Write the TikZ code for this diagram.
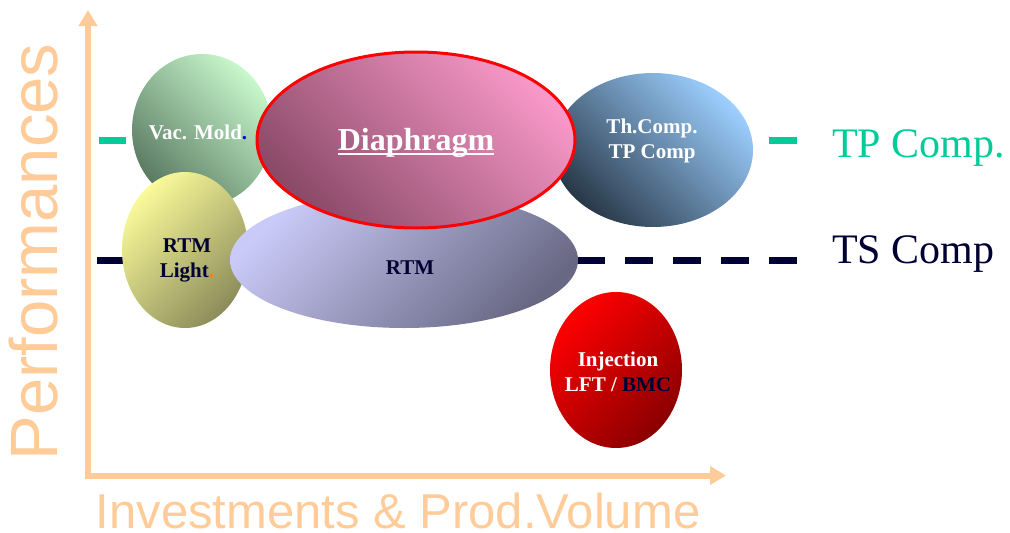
\documentclass[tikz,border=0pt]{standalone}
\usepackage{fontspec}
\setmainfont{Liberation Serif}
\newfontfamily\arialfont{Liberation Sans}
\usetikzlibrary{shapes.geometric,arrows.meta}
\definecolor{peach}{HTML}{FFCC99}
\definecolor{tpgreen}{HTML}{00CC99}
\definecolor{tsnavy}{HTML}{000033}
\definecolor{vacL}{HTML}{C8F8CC}\definecolor{vacD}{HTML}{5A7A62}
\definecolor{rlL}{HTML}{FAFA9A}\definecolor{rlD}{HTML}{8C8C5A}
\definecolor{diaL}{HTML}{F898C8}\definecolor{diaD}{HTML}{8A4A68}
\definecolor{rtmL}{HTML}{CACAF8}\definecolor{rtmD}{HTML}{686884}
\definecolor{thL}{HTML}{9CCFFF}\definecolor{thD}{HTML}{283848}
\definecolor{injL}{HTML}{FF0000}\definecolor{injD}{HTML}{8A0000}
\newcommand\thickul[1]{\setbox0\hbox{#1}\rlap{\rule[-4.5pt]{\wd0}{2.5pt}}\box0}
\begin{document}
\begin{tikzpicture}[x=1pt,y=-1pt,
  axis/.style={peach,line width=6pt,-{Triangle[length=16pt,width=18pt]}},
  blob/.style={ellipse,draw=none,inner sep=0pt},
  lab/.style={inner sep=0pt,align=center,font=\fontsize{21}{25}\selectfont\bfseries},
  legendline/.style={line width=7pt},
  legendtext/.style={inner sep=0pt,anchor=base west,font=\fontsize{42}{48}\selectfont}]
\useasboundingbox (0,0) rectangle (1010,533);
% axes
\coordinate (ytop) at (88,10);
\coordinate (xend) at (726,475.5);
\coordinate (o2) at (88,478.5);
\coordinate (o1) at (85,475.5);
\draw[axis] (o2) -- (ytop);
\draw[axis] (o1) -- (xend);
\node[inner sep=0pt,rotate=90,text=peach,font=\arialfont\fontsize{67}{67}\selectfont] (perf) at (34,252) {Performances};
\node[inner sep=0pt,anchor=base,text=peach,font=\arialfont\fontsize{49}{50}\selectfont] (inv) at (398,528) {Investments \& Prod.Volume};
% legend lines
\coordinate (tpa) at (99,140); \coordinate (tpb) at (126,140);
\coordinate (tpc) at (769,140); \coordinate (tpd) at (797,140);
\draw[legendline,tpgreen] (tpa) -- (tpb);
\draw[legendline,tpgreen] (tpc) -- (tpd);
\coordinate (tsa) at (97,260); \coordinate (tsb) at (797,260);
\draw[legendline,tsnavy,dash pattern=on 28pt off 20pt] (tsa) -- (tsb);
\node[legendtext,text=tpgreen] (tp) at (832,157) {TP Comp.};
\node[legendtext,text=tsnavy] (ts) at (832,263) {TS Comp};
% blobs
\node[blob,minimum width=140pt,minimum height=152pt,top color=vacL,bottom color=vacD,shading angle=-45] (vac) at (202,130) {};
\node[lab,text=white] (vact) at (198,132) {Vac. Mold\textcolor{blue}{.}};
\node[blob,minimum width=126pt,minimum height=156pt,top color=rlL,bottom color=rlD,shading angle=45] (rl) at (185,250) {};
\node[lab,text=tsnavy] (rlt) at (187,260) {RTM\\Light\textcolor{orange}{.}};
\node[blob,minimum width=348pt,minimum height=136pt,top color=rtmL,bottom color=rtmD,shading angle=45] (rtm) at (404,260) {};
\node[lab,text=tsnavy] (rtmt) at (410,268) {RTM};
\node[blob,minimum width=200pt,minimum height=154pt,top color=thL,bottom color=thD,shading angle=-45] (th) at (653,150) {};
\node[lab,text=white] (tht) at (652,141) {Th.Comp.\\TP Comp};
\node[ellipse,draw=red,line width=3pt,inner sep=0pt,minimum width=318pt,minimum height=176pt,top color=diaL,bottom color=diaD,shading angle=-45] (dia) at (416,140) {};
\node[inner sep=0pt,text=white,font=\fontsize{32}{32}\selectfont\bfseries] (diat) at (416,143) {\thickul{Diaphragm}};
\node[blob,minimum width=132pt,minimum height=156pt,top color=injL,bottom color=injD,shading angle=45] (inj) at (616,370) {};
\node[lab,text=white] (injt) at (618,372) {Injection\\LFT / \textcolor{tsnavy}{BMC}};
\end{tikzpicture}
\end{document}
